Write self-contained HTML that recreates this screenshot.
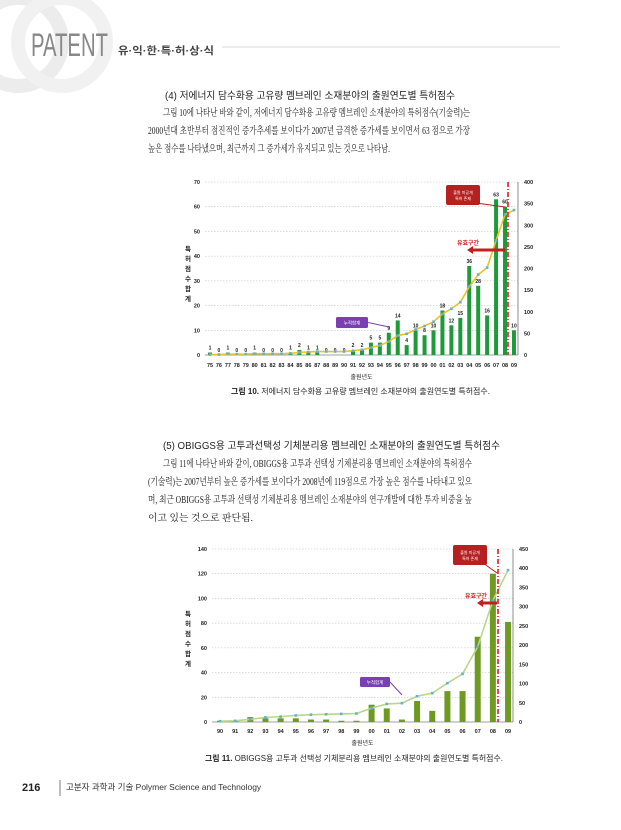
<!DOCTYPE html>
<html><head><meta charset="utf-8"><style>
html,body{margin:0;padding:0;background:#fff;}
svg{display:block;font-family:"Liberation Sans","Noto Sans CJK KR",sans-serif;}
</style></head><body>
<svg id="s" width="621" height="830" viewBox="0 0 621 830" xmlns="http://www.w3.org/2000/svg">
<circle cx="18" cy="42" r="44" fill="none" stroke="#ececec" stroke-width="14"/>
<circle cx="62" cy="42" r="44" fill="none" stroke="#f1f1f1" stroke-width="14"/>
<text x="31" y="56" font-size="32" fill="#888" textLength="77" lengthAdjust="spacingAndGlyphs">PATENT</text>
<text x="118" y="54" font-size="10.5" fill="#444" font-weight="bold" textLength="96" lengthAdjust="spacingAndGlyphs">유·익·한·특·허·상·식</text>
<line x1="222" y1="47" x2="560" y2="47" stroke="#ccc" stroke-width="0.7"/>
<g font-size="10" fill="#222" font-family="Liberation Serif,Noto Serif CJK SC,serif">
<text x="165" y="99" font-family="Liberation Sans,Noto Sans CJK KR,sans-serif" textLength="290" lengthAdjust="spacingAndGlyphs">(4) 저에너지 담수화용 고유량 멤브레인 소재분야의 출원연도별 특허점수</text>
<text x="163" y="116" textLength="307" lengthAdjust="spacingAndGlyphs">그림 10에 나타난 바와 같이, 저에너지 담수화용 고유량 멤브레인 소재분야의 특허점수(기술력)는</text>
<text x="148" y="134" textLength="322" lengthAdjust="spacingAndGlyphs">2000년대 초반부터 점진적인 증가추세를 보이다가 2007년 급격한 증가세를 보이면서 63 점으로 가장</text>
<text x="148" y="152" textLength="242" lengthAdjust="spacingAndGlyphs">높은 점수를 나타냈으며, 최근까지 그 증가세가 유지되고 있는 것으로 나타남.</text>
<text x="163" y="449" font-family="Liberation Sans,Noto Sans CJK KR,sans-serif" textLength="337" lengthAdjust="spacingAndGlyphs">(5) OBIGGS용 고투과선택성 기체분리용 멤브레인 소재분야의 출원연도별 특허점수</text>
<text x="163" y="467" textLength="309" lengthAdjust="spacingAndGlyphs">그림 11에 나타난 바와 같이, OBIGGS용 고투과 선택성 기체분리용 멤브레인 소재분야의 특허점수</text>
<text x="148" y="485" textLength="324" lengthAdjust="spacingAndGlyphs">(기술력)는 2007년부터 높은 증가세를 보이다가 2008년에 119점으로 가장 높은 점수를 나타내고 있으</text>
<text x="148" y="503" textLength="324" lengthAdjust="spacingAndGlyphs">며, 최근 OBIGGS용 고투과 선택성 기체분리용 멤브레인 소재분야의 연구개발에 대한 투자 비중을 높</text>
<text x="148" y="521" font-size="9.5" textLength="105" lengthAdjust="spacingAndGlyphs">이고 있는 것으로 판단됨.</text>
</g>
<g font-size="8" fill="#222">
<text x="231" y="394" textLength="259" lengthAdjust="spacingAndGlyphs"><tspan font-weight="bold">그림 10.</tspan> 저에너지 담수화용 고유량 멤브레인 소재분야의 출원연도별 특허점수.</text>
<text x="205" y="761" textLength="298" lengthAdjust="spacingAndGlyphs"><tspan font-weight="bold">그림 11.</tspan> OBIGGS용 고투과 선택성 기체분리용 멤브레인 소재분야의 출원연도별 특허점수.</text>
</g>
<text x="22" y="791" font-size="11" font-weight="bold" fill="#222">216</text>
<line x1="60" y1="780" x2="60" y2="796" stroke="#444" stroke-width="0.7"/>
<text x="66" y="790" font-size="8.5" fill="#333">고분자 과학과 기술 Polymer Science and Technology</text>
<g id="c1"></g><g id="c2"></g>
</svg>
<script>
var NS="http://www.w3.org/2000/svg";
function el(p,t,a,txt){var e=document.createElementNS(NS,t);for(var k in a)e.setAttribute(k,a[k]);if(txt!=null)e.textContent=txt;p.appendChild(e);return e;}
function chart(g,o){
 var L=o.x0,R=o.x1,T=o.yT,B=o.yB,n=o.bars.length;
 for(var i=0;i<=o.lmax;i+=o.lstep){var y=B-(B-T)*i/o.lmax;
  if(i>0)el(g,'line',{x1:L,y1:y,x2:R,y2:y,stroke:'#bbb','stroke-width':0.5,'stroke-dasharray':'1.5,1.5'});
  el(g,'text',{x:L-5,y:y+2,'font-size':5.5,'font-weight':'bold','text-anchor':'end',fill:'#222'},i);}
 for(var i=0;i<=o.rmax;i+=50){var y=B-(B-T)*i/o.rmax;
  el(g,'text',{x:R+6,y:y+2,'font-size':5.5,'font-weight':'bold',fill:'#222'},i);}
 el(g,'line',{x1:L,y1:B,x2:R,y2:B,stroke:'#444','stroke-width':0.6});
 el(g,'line',{x1:R,y1:T,x2:R,y2:B,stroke:'#444','stroke-width':0.6});
 var pts=[];
 for(var i=0;i<n;i++){var cx=o.c0+o.step*i,v=o.bars[i],h=(B-T)*v/o.lmax;
  el(g,'rect',{x:cx-o.bw/2,y:B-h,width:o.bw,height:h,fill:o.bc});
  if(o.vl)el(g,'text',{x:cx,y:B-h-3,'font-size':5,'font-weight':'bold','text-anchor':'middle',fill:'#222'},v);
  el(g,'text',{x:cx,y:o.xly,'font-size':5.5,'font-weight':'bold','text-anchor':'middle',fill:'#222'},o.lab[i]);
  pts.push(cx+','+(B-(B-T)*o.cum[i]/o.rmax));}
 el(g,'polyline',{points:pts.join(' '),fill:'none',stroke:o.lc,'stroke-width':1.6});
 pts.forEach(function(p){var q=p.split(',');el(g,'rect',{x:q[0]-1.3,y:q[1]-1.3,width:2.6,height:2.6,fill:'#5fb4d0'});});
 el(g,'text',{x:(L+R)/2,y:o.xly+12,'font-size':6,'text-anchor':'middle',fill:'#222'},'출원년도');
 var t="특허점수합계";for(var i=0;i<6;i++)el(g,'text',{x:o.ytx,y:o.yty+i*10,'font-size':6.5,'font-weight':'bold','text-anchor':'middle',fill:'#222'},t[i]);
 el(g,'line',{x1:o.dx,y1:T,x2:o.dx,y2:B,stroke:'#d81e1e','stroke-width':1.6,'stroke-dasharray':'5,2,1,2'});
 var r=o.rb;el(g,'rect',{x:r[0],y:r[1],width:r[2],height:r[3],rx:2,fill:'#b52020'});
 el(g,'line',{x1:r[0]+r[2]-4,y1:r[1]+r[3]-2,x2:r[4],y2:r[5],stroke:'#b52020','stroke-width':1});
 el(g,'text',{x:r[0]+r[2]/2,y:r[1]+r[3]/2-1,'font-size':4,'text-anchor':'middle',fill:'#fff'},'출원 미공개');
 el(g,'text',{x:r[0]+r[2]/2,y:r[1]+r[3]/2+5,'font-size':4,'text-anchor':'middle',fill:'#fff'},'특허 존재');
 var a=o.ar;el(g,'text',{x:a[0],y:a[1]-5,'font-size':6,'font-weight':'bold','text-anchor':'middle',fill:'#d02020'},'유효구간');
 el(g,'rect',{x:a[2],y:a[1]-1.5,width:a[3]-a[2],height:3,fill:'#c02020'});
 el(g,'polygon',{points:(a[2]-4)+','+a[1]+' '+(a[2]+2)+','+(a[1]-4)+' '+(a[2]+2)+','+(a[1]+4),fill:'#c02020'});
 var p=o.pb;el(g,'rect',{x:p[0],y:p[1],width:p[2],height:p[3],rx:1.5,fill:'#7a3fb0'});
 el(g,'line',{x1:p[0]+p[2],y1:p[1]+p[3]/2,x2:p[4],y2:p[5],stroke:'#7a3fb0','stroke-width':1});
 el(g,'text',{x:p[0]+p[2]/2,y:p[1]+p[3]/2+2,'font-size':4.5,'text-anchor':'middle',fill:'#fff'},'누적합계');
}
var b1=[1,0,1,0,0,1,0,0,0,1,2,1,1,0,0,0,2,2,5,5,9,14,4,10,8,10,18,12,15,36,28,16,63,60,10],c1=[],s=0;
b1.forEach(function(v){s+=v;c1.push(s);});
var l1=[];for(var y=75;y<=109;y++)l1.push(String(y%100).padStart(2,'0'));
chart(document.getElementById('c1'),{x0:205,x1:518,yT:182,yB:355,lmax:70,lstep:10,rmax:400,bars:b1,cum:c1,lab:l1,c0:210,step:8.94,bw:4,bc:'#1e9a3a',lc:'#f0c020',vl:1,xly:367,ytx:188,yty:251,dx:508,rb:[446,185,34,20,505,207],ar:[468,250,471,505],pb:[336,317,32,11,389,327]});
var b2=[1,1,4,3,3,3,2,2,1,1,14,11,2,17,9,25,25,69,120,81];
var c2=[2,3,7,12,14,17,19,20,21,22,36,47,49,67,75,101,125,196,316,395];
var l2=["90","91","92","93","94","95","96","97","98","99","00","01","02","03","04","05","06","07","08","09"];
chart(document.getElementById('c2'),{x0:212,x1:513,yT:549,yB:722,lmax:140,lstep:20,rmax:450,bars:b2,cum:c2,lab:l2,c0:220,step:15.16,bw:6,bc:'#6f9a22',lc:'#b9d68c',vl:0,xly:733,ytx:188,yty:616,dx:498,rb:[453,545,34,20,497,573],ar:[476,603,481,497],pb:[360,677,30,10,402,695]});
</script>
</body></html>
